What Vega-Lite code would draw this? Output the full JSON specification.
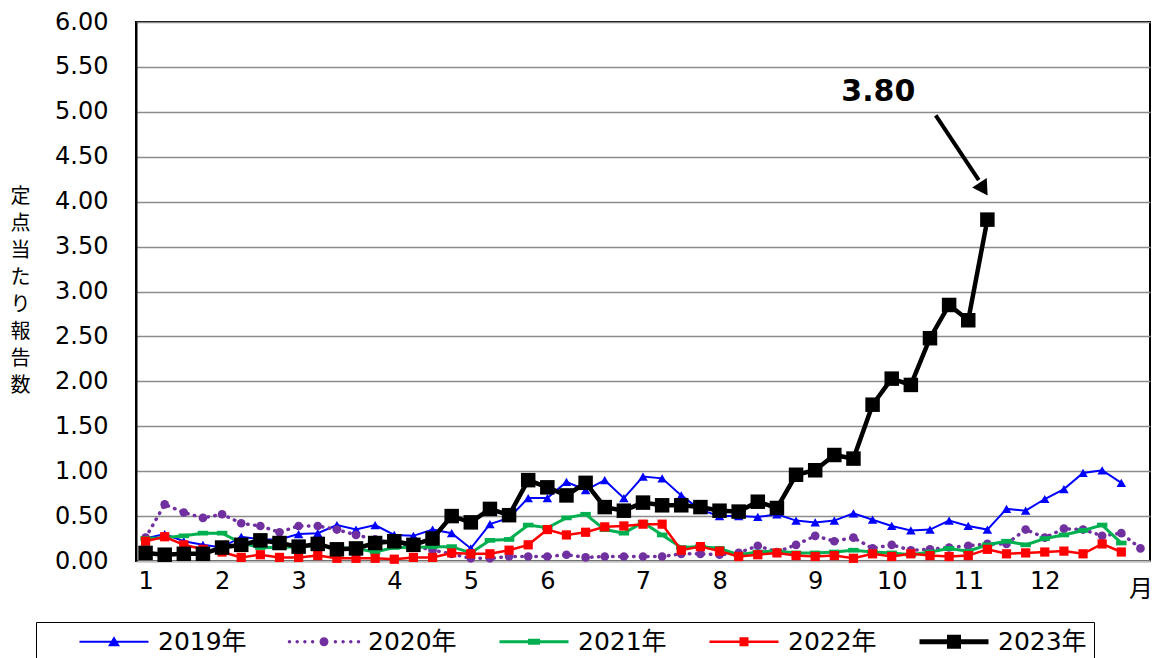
{
  "$schema": "https://vega.github.io/schema/vega-lite/v6.json",
  "width": 1014,
  "height": 539,
  "autosize": "none",
  "padding": {"left": 136, "top": 22, "right": 6, "bottom": 97},
  "config": {
    "view": {"stroke": "black", "strokeWidth": 2},
    "font": "DejaVu Sans, Noto Sans CJK JP"
  },
  "datasets": {
    "flu": [
      {"week":1,"y2019":0.25,"y2020":0.26,"y2021":0.25,"y2022":0.22,"y2023":0.09},
      {"week":2,"y2019":0.30,"y2020":0.63,"y2021":0.26,"y2022":0.27,"y2023":0.07},
      {"week":3,"y2019":0.22,"y2020":0.54,"y2021":0.28,"y2022":0.18,"y2023":0.08},
      {"week":4,"y2019":0.18,"y2020":0.48,"y2021":0.31,"y2022":0.13,"y2023":0.08},
      {"week":5,"y2019":0.15,"y2020":0.52,"y2021":0.31,"y2022":0.10,"y2023":0.15},
      {"week":6,"y2019":0.27,"y2020":0.42,"y2021":0.20,"y2022":0.04,"y2023":0.18},
      {"week":7,"y2019":0.24,"y2020":0.39,"y2021":0.15,"y2022":0.07,"y2023":0.23},
      {"week":8,"y2019":0.24,"y2020":0.32,"y2021":0.15,"y2022":0.04,"y2023":0.20},
      {"week":9,"y2019":0.30,"y2020":0.39,"y2021":0.16,"y2022":0.04,"y2023":0.16},
      {"week":10,"y2019":0.31,"y2020":0.39,"y2021":0.17,"y2022":0.06,"y2023":0.19},
      {"week":11,"y2019":0.40,"y2020":0.35,"y2021":0.15,"y2022":0.03,"y2023":0.13},
      {"week":12,"y2019":0.35,"y2020":0.29,"y2021":0.14,"y2022":0.03,"y2023":0.14},
      {"week":13,"y2019":0.40,"y2020":0.24,"y2021":0.10,"y2022":0.03,"y2023":0.20},
      {"week":14,"y2019":0.29,"y2020":0.20,"y2021":0.15,"y2022":0.02,"y2023":0.22},
      {"week":15,"y2019":0.28,"y2020":0.17,"y2021":0.15,"y2022":0.04,"y2023":0.18},
      {"week":16,"y2019":0.35,"y2020":0.12,"y2021":0.16,"y2022":0.04,"y2023":0.25},
      {"week":17,"y2019":0.31,"y2020":0.08,"y2021":0.16,"y2022":0.09,"y2023":0.50},
      {"week":18,"y2019":0.14,"y2020":0.03,"y2021":0.09,"y2022":0.08,"y2023":0.43},
      {"week":19,"y2019":0.41,"y2020":0.03,"y2021":0.23,"y2022":0.08,"y2023":0.58},
      {"week":20,"y2019":0.48,"y2020":0.05,"y2021":0.24,"y2022":0.12,"y2023":0.51},
      {"week":21,"y2019":0.70,"y2020":0.05,"y2021":0.40,"y2022":0.18,"y2023":0.90},
      {"week":22,"y2019":0.70,"y2020":0.05,"y2021":0.37,"y2022":0.35,"y2023":0.82},
      {"week":23,"y2019":0.88,"y2020":0.07,"y2021":0.48,"y2022":0.29,"y2023":0.73},
      {"week":24,"y2019":0.79,"y2020":0.04,"y2021":0.52,"y2022":0.32,"y2023":0.87},
      {"week":25,"y2019":0.90,"y2020":0.05,"y2021":0.35,"y2022":0.38,"y2023":0.60},
      {"week":26,"y2019":0.70,"y2020":0.05,"y2021":0.31,"y2022":0.39,"y2023":0.56},
      {"week":27,"y2019":0.94,"y2020":0.05,"y2021":0.43,"y2022":0.41,"y2023":0.65},
      {"week":28,"y2019":0.92,"y2020":0.05,"y2021":0.29,"y2022":0.41,"y2023":0.62},
      {"week":29,"y2019":0.73,"y2020":0.08,"y2021":0.15,"y2022":0.12,"y2023":0.62},
      {"week":30,"y2019":0.57,"y2020":0.08,"y2021":0.16,"y2022":0.16,"y2023":0.60},
      {"week":31,"y2019":0.50,"y2020":0.07,"y2021":0.14,"y2022":0.11,"y2023":0.56},
      {"week":32,"y2019":0.50,"y2020":0.09,"y2021":0.07,"y2022":0.05,"y2023":0.55},
      {"week":33,"y2019":0.49,"y2020":0.17,"y2021":0.10,"y2022":0.07,"y2023":0.66},
      {"week":34,"y2019":0.52,"y2020":0.10,"y2021":0.11,"y2022":0.09,"y2023":0.59},
      {"week":35,"y2019":0.45,"y2020":0.18,"y2021":0.09,"y2022":0.06,"y2023":0.96},
      {"week":36,"y2019":0.43,"y2020":0.28,"y2021":0.09,"y2022":0.05,"y2023":1.01},
      {"week":37,"y2019":0.45,"y2020":0.22,"y2021":0.10,"y2022":0.06,"y2023":1.18},
      {"week":38,"y2019":0.53,"y2020":0.26,"y2021":0.12,"y2022":0.03,"y2023":1.14},
      {"week":39,"y2019":0.46,"y2020":0.14,"y2021":0.10,"y2022":0.08,"y2023":1.74},
      {"week":40,"y2019":0.39,"y2020":0.18,"y2021":0.09,"y2022":0.05,"y2023":2.03},
      {"week":41,"y2019":0.34,"y2020":0.12,"y2021":0.07,"y2022":0.08,"y2023":1.96},
      {"week":42,"y2019":0.35,"y2020":0.13,"y2021":0.10,"y2022":0.06,"y2023":2.48},
      {"week":43,"y2019":0.45,"y2020":0.15,"y2021":0.14,"y2022":0.05,"y2023":2.85},
      {"week":44,"y2019":0.39,"y2020":0.17,"y2021":0.11,"y2022":0.06,"y2023":2.68},
      {"week":45,"y2019":0.35,"y2020":0.19,"y2021":0.18,"y2022":0.13,"y2023":3.80},
      {"week":46,"y2019":0.58,"y2020":0.19,"y2021":0.22,"y2022":0.08,"y2023":null},
      {"week":47,"y2019":0.56,"y2020":0.35,"y2021":0.18,"y2022":0.09,"y2023":null},
      {"week":48,"y2019":0.69,"y2020":0.26,"y2021":0.25,"y2022":0.10,"y2023":null},
      {"week":49,"y2019":0.80,"y2020":0.36,"y2021":0.29,"y2022":0.11,"y2023":null},
      {"week":50,"y2019":0.98,"y2020":0.35,"y2021":0.34,"y2022":0.08,"y2023":null},
      {"week":51,"y2019":1.01,"y2020":0.28,"y2021":0.40,"y2022":0.19,"y2023":null},
      {"week":52,"y2019":0.87,"y2020":0.31,"y2021":0.20,"y2022":0.10,"y2023":null},
      {"week":53,"y2019":null,"y2020":0.14,"y2021":null,"y2022":null,"y2023":null}
    ]
  },
  "encoding": {
    "x": {
      "field": "week", "type": "quantitative",
      "scale": {"domain": [0.5, 53.5], "nice": false, "zero": false},
      "axis": {
        "values": [1,5,9,14,18,22,27,31,36,40,44,48,53],
        "labelExpr": "datum.value == 53 ? '月' : '' + (indexof([1,5,9,14,18,22,27,31,36,40,44,48], datum.value) + 1)",
        "title": null, "grid": false, "ticks": false,
        "domainColor": "#bfbfbf", "domainWidth": 2,
        "labelFontSize": 24, "labelColor": "black", "labelFont": "DejaVu Sans, Noto Sans CJK JP",
        "labelPadding": {"condition": {"test": "datum.value == 53", "value": 16}, "value": 8},
        "labelFlush": false, "labelOverlap": false
      }
    },
    "y": {
      "field": "value", "type": "quantitative",
      "scale": {"domain": [0, 6], "nice": false},
      "axis": {
        "values": [0,0.5,1,1.5,2,2.5,3,3.5,4,4.5,5,5.5,6],
        "format": ".2f",
        "ticks": false, "domainColor": "black", "domainWidth": 2,
        "gridColor": "#8c8c8c", "gridWidth": 1.5,
        "labelFontSize": 24, "labelColor": "black", "labelFont": "DejaVu Sans",
        "labelPadding": 28,
        "title": ["定","点","当","た","り","報","告","数"],
        "titleAngle": 0, "titleFont": "Noto Sans CJK JP", "titleFontSize": 20,
        "titleFontWeight": "normal", "titleColor": "black",
        "titleLineHeight": 27, "titleAlign": "center", "titleBaseline": "top",
        "titleX": -116, "titleY": 164
      }
    }
  },
  "layer": [
    {"data": {"name": "flu"}, "transform": [{"fold": ["y2019"], "as": ["series", "value"]}],
     "mark": {"type": "line", "color": "#0000FF", "strokeWidth": 2}},
    {"data": {"name": "flu"}, "transform": [{"fold": ["y2019"], "as": ["series", "value"]}],
     "mark": {"type": "point", "shape": "triangle-up", "filled": true, "color": "#0000FF", "size": 90, "opacity": 1}},
    {"data": {"name": "flu"}, "transform": [{"fold": ["y2020"], "as": ["series", "value"]}],
     "mark": {"type": "line", "color": "#7030A0", "strokeWidth": 3.5, "strokeDash": [0.5, 6.5], "strokeCap": "round"}},
    {"data": {"name": "flu"}, "transform": [{"fold": ["y2020"], "as": ["series", "value"]}],
     "mark": {"type": "point", "shape": "circle", "filled": true, "color": "#7030A0", "size": 75, "opacity": 1}},
    {"data": {"name": "flu"}, "transform": [{"fold": ["y2021"], "as": ["series", "value"]}],
     "mark": {"type": "line", "color": "#00B050", "strokeWidth": 3}},
    {"data": {"name": "flu"}, "transform": [{"fold": ["y2021"], "as": ["series", "value"]}],
     "mark": {"type": "point", "shape": "M-1,-0.45H1V0.45H-1Z", "filled": true, "color": "#00B050", "size": 110, "opacity": 1}},
    {"data": {"name": "flu"}, "transform": [{"fold": ["y2022"], "as": ["series", "value"]}],
     "mark": {"type": "line", "color": "#FF0000", "strokeWidth": 2.5}},
    {"data": {"name": "flu"}, "transform": [{"fold": ["y2022"], "as": ["series", "value"]}],
     "mark": {"type": "point", "shape": "square", "filled": true, "color": "#FF0000", "size": 85, "opacity": 1}},
    {"data": {"name": "flu"}, "transform": [{"fold": ["y2023"], "as": ["series", "value"]}],
     "mark": {"type": "line", "color": "#000000", "strokeWidth": 4.5}},
    {"data": {"name": "flu"}, "transform": [{"fold": ["y2023"], "as": ["series", "value"]}],
     "mark": {"type": "point", "shape": "square", "filled": true, "color": "#000000", "size": 210, "opacity": 1}},
    {"data": {"values": [{"week": 42.3, "value": 4.96, "week2": 44.55, "value2": 4.24}]},
     "mark": {"type": "rule", "color": "black", "strokeWidth": 4},
     "encoding": {"x2": {"field": "week2"}, "y2": {"field": "value2"}}},
    {"data": {"values": [{"week": 44.8, "value": 4.14}]},
     "mark": {"type": "point", "shape": "triangle-up", "filled": true, "color": "black", "size": 300, "angle": 147, "opacity": 1}},
    {"data": {"values": [{"week": 39.3, "value": 5.22, "label": "3.80"}]},
     "mark": {"type": "text", "font": "DejaVu Sans", "fontSize": 30, "fontWeight": "bold", "color": "black", "align": "center", "baseline": "middle"},
     "encoding": {"text": {"field": "label"}}},
    {"data": {"values": [{"series": "2019年"}, {"series": "2020年"}, {"series": "2021年"}, {"series": "2022年"}, {"series": "2023年"}]},
     "transform": [{"filter": "datum.series == 'none'"}],
     "mark": {"type": "point", "filled": true},
     "encoding": {
       "color": {"field": "series", "type": "nominal",
         "scale": {"domain": ["2019年","2020年","2021年","2022年","2023年"], "range": ["#0000FF","#7030A0","#00B050","#FF0000","#000000"]},
         "legend": {
           "title": null, "orient": "none", "legendX": -100, "legendY": 600, "direction": "horizontal",
           "labelFont": "DejaVu Sans, Noto Sans CJK JP", "labelFontSize": 25, "labelColor": "black",
           "symbolSize": 400, "symbolStrokeWidth": 0, "labelOffset": 56, "columnPadding": 6,
           "symbolOffset": 34,
           "strokeColor": "black", "padding": 7, "symbolOpacity": 1
         }},
       "shape": {"field": "series", "type": "nominal",
         "scale": {"domain": ["2019年","2020年","2021年","2022年","2023年"],
           "range": [
             "M-1,-0.1H5.9V0.1H-1Z M2.45,-0.55L3.05,0.45H1.85Z",
             "M-1.17,0A0.17,0.17 0 1,0 -0.83,0A0.17,0.17 0 1,0 -1.17,0Z M-0.4,0A0.17,0.17 0 1,0 -0.06,0A0.17,0.17 0 1,0 -0.4,0Z M0.37,0A0.17,0.17 0 1,0 0.71,0A0.17,0.17 0 1,0 0.37,0Z M1.14,0A0.17,0.17 0 1,0 1.48,0A0.17,0.17 0 1,0 1.14,0Z M2.0,0A0.45,0.45 0 1,0 2.9,0A0.45,0.45 0 1,0 2.0,0Z M3.42,0A0.17,0.17 0 1,0 3.76,0A0.17,0.17 0 1,0 3.42,0Z M4.19,0A0.17,0.17 0 1,0 4.53,0A0.17,0.17 0 1,0 4.19,0Z M4.96,0A0.17,0.17 0 1,0 5.3,0A0.17,0.17 0 1,0 4.96,0Z M5.73,0A0.17,0.17 0 1,0 6.07,0A0.17,0.17 0 1,0 5.73,0Z",
             "M-1,-0.15H5.9V0.15H-1Z M1.85,-0.3H3.05V0.3H1.85Z",
             "M-1,-0.125H5.9V0.125H-1Z M2.0,-0.45H2.9V0.45H2.0Z",
             "M-1,-0.25H5.9V0.25H-1Z M1.75,-0.7H3.15V0.7H1.75Z"
           ]},
         "legend": {
           "title": null, "orient": "none", "legendX": -100, "legendY": 600, "direction": "horizontal",
           "labelFont": "DejaVu Sans, Noto Sans CJK JP", "labelFontSize": 25, "labelColor": "black",
           "symbolSize": 400, "symbolStrokeWidth": 0, "labelOffset": 56, "columnPadding": 6,
           "symbolOffset": 34,
           "strokeColor": "black", "padding": 7, "symbolOpacity": 1
         }}
     }}
  ]
}
